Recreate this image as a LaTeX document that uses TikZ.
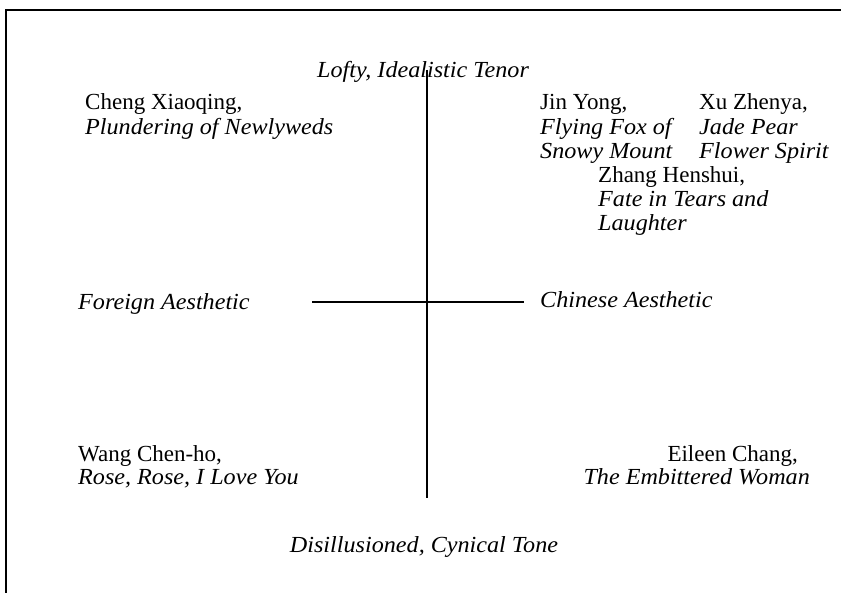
\documentclass[tikz,border=0pt]{standalone}
\usepackage{fontspec}
\setmainfont{Liberation Serif}[ItalicFeatures={FakeStretch=1.05}]
\begin{document}
\begin{tikzpicture}[x=1pt,y=-1pt,
  rm/.style={inner sep=0pt, anchor=base west, font=\fontsize{23}{24.5}\selectfont},
  it/.style={inner sep=0pt, anchor=base west, font=\fontsize{23}{24.5}\selectfont\itshape},
  itc/.style={it, anchor=base},
  axisline/.style={line width=1.8pt},
  frameline/.style={line width=1.8pt}]
\useasboundingbox (0,0) rectangle (841,593);
% frame
\coordinate (fTR) at (841,10);
\coordinate (fTL) at (6,10);
\coordinate (fBL) at (6,593);
\draw[frameline] (fTR) -- (fTL) -- (fBL);
% axes
\coordinate (vT) at (427,70);
\coordinate (vB) at (427,498);
\coordinate (hL) at (312,302);
\coordinate (hR) at (524,302);
\draw[axisline] (vT) -- (vB);
\draw[axisline] (hL) -- (hR);
% axis labels
\node[itc] (top) at (423,78) {Lofty, Idealistic Tenor};
\node[itc] (bot) at (424,552) {Disillusioned, Cynical Tone};
\node[it] (left) at (78,310) {Foreign Aesthetic};
\node[it] (right) at (540,308) {Chinese Aesthetic};
% upper left
\node[rm] (cheng1) at (85,110) {Cheng Xiaoqing,};
\node[it] (cheng2) at (85,135) {Plundering of Newlyweds};
% upper right
\node[rm] (jin1) at (540,110) {Jin Yong,};
\node[it] (jin2) at (540,135) {Flying Fox of};
\node[it] (jin3) at (540,159) {Snowy Mount};
\node[rm] (xu1) at (699,110) {Xu Zhenya,};
\node[it] (xu2) at (699,135) {Jade Pear};
\node[it] (xu3) at (699,159) {Flower Spirit};
\node[rm] (zh1) at (598,183) {Zhang Henshui,};
\node[it] (zh2) at (598,207) {Fate in Tears and};
\node[it] (zh3) at (598,231) {Laughter};
% lower left
\node[rm] (wang1) at (78,461) {Wang Chen-ho,};
\node[it] (wang2) at (78,485) {Rose, Rose, I Love You};
% lower right
\node[rm, anchor=base east] (ei1) at (798,461) {Eileen Chang,};
\node[it, anchor=base east] (ei2) at (810,485) {The Embittered Woman};
\end{tikzpicture}
\end{document}
